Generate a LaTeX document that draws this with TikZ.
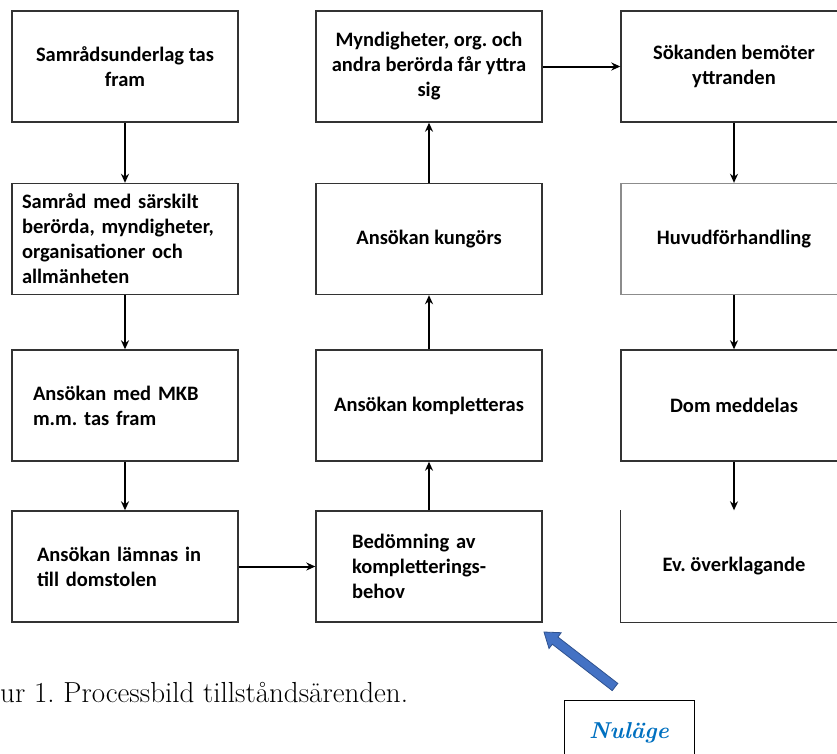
\documentclass[tikz,border=0pt]{standalone}
\usepackage{fontspec}
\newfontfamily\calib{Carlito}
\usetikzlibrary{arrows.meta}
\definecolor{nublue}{RGB}{0,112,192}
\definecolor{pilfill}{RGB}{68,114,196}
\definecolor{piledge}{RGB}{47,82,143}
\frenchspacing
\begin{document}
\begin{tikzpicture}[x=1pt,y=-1pt,>={Stealth[length=9pt,width=8pt]},
    ruta/.style={draw=black!80,line width=1.4pt,minimum width=226pt,minimum height=111pt,
        inner sep=0pt,align=center,font=\calib\bfseries\fontsize{20.5}{25}\selectfont},
    vruta/.style={ruta,align=left,text width=#1},
    pil/.style={->,line width=2pt}]
        \useasboundingbox (0,0) rectangle (837,753);
        % kolumn 1
        \node[ruta] (a1) at (125,66.5) {Samrådsunderlag tas\\fram};
        \node[vruta=206pt] (a2) at (125,239) {Samråd med särskilt\\berörda, myndigheter,\\organisationer och\\allmänheten};
        \node[vruta=184pt] (a3) at (125,405.5) {Ansökan med MKB\\m.m. tas fram};
        \node[vruta=176pt] (a4) at (125,566.5) {Ansökan lämnas in\\till domstolen};
        % kolumn 2
        \node[ruta] (b1) at (429,66.5) {Myndigheter, org. och\\andra berörda får yttra\\sig};
        \node[ruta] (b2) at (429,239) {Ansökan kungörs};
        \node[ruta] (b3) at (429,405.5) {Ansökan kompletteras};
        \node[vruta=154pt] (b4) at (429,566.5) {Bedömning av\\kompletterings-\\behov};
        % kolumn 3
        \node[ruta] (c1) at (734,66.5) {Sökanden bemöter\\yttranden};
        \node[ruta,draw=black!45] (c2) at (734,239) {Huvudförhandling};
        \node[ruta] (c3) at (734,405.5) {Dom meddelas};
        \node[ruta,draw=none] (c4) at (734,566.5) {Ev. överklagande};
        \draw[black!80,line width=1.4pt] (c4.north west) -- (c4.south west) -- (c4.south east);
        \draw[pil] (a1) -- (a2);
        \draw[pil] (a2) -- (a3);
        \draw[pil] (a3) -- (a4);
        \draw[pil] (a4) -- (b4);
        \draw[pil] (b4) -- (b3);
        \draw[pil] (b3) -- (b2);
        \draw[pil] (b2) -- (b1);
        \draw[pil] (b1) -- (c1);
        \draw[pil] (c1) -- (c2);
        \draw[pil] (c2) -- (c3);
        \draw[pil] (c3) -- (c4);
        \node[anchor=base west,inner sep=0pt,font=\fontsize{29}{34}\selectfont] (fig) at (0,702) {ur 1. Processbild tillståndsärenden.};
        \node[draw,line width=0.8pt,anchor=north,minimum width=130pt,inner ysep=22.5pt,text depth=60pt,
            font=\bfseries\itshape\fontsize{23}{27}\selectfont,text=nublue] (nul) at (629,700) {Nuläge};
        % blå pil mot nuläget
        \draw[fill=pilfill,draw=piledge,line width=0.8pt] (612.2,690.6) -- (552.3,644.2) -- (549.0,648.5) -- (544,632)
            -- (561.2,632.7) -- (557.9,637.0) -- (617.8,683.4) -- cycle;
\end{tikzpicture}
\end{document}
